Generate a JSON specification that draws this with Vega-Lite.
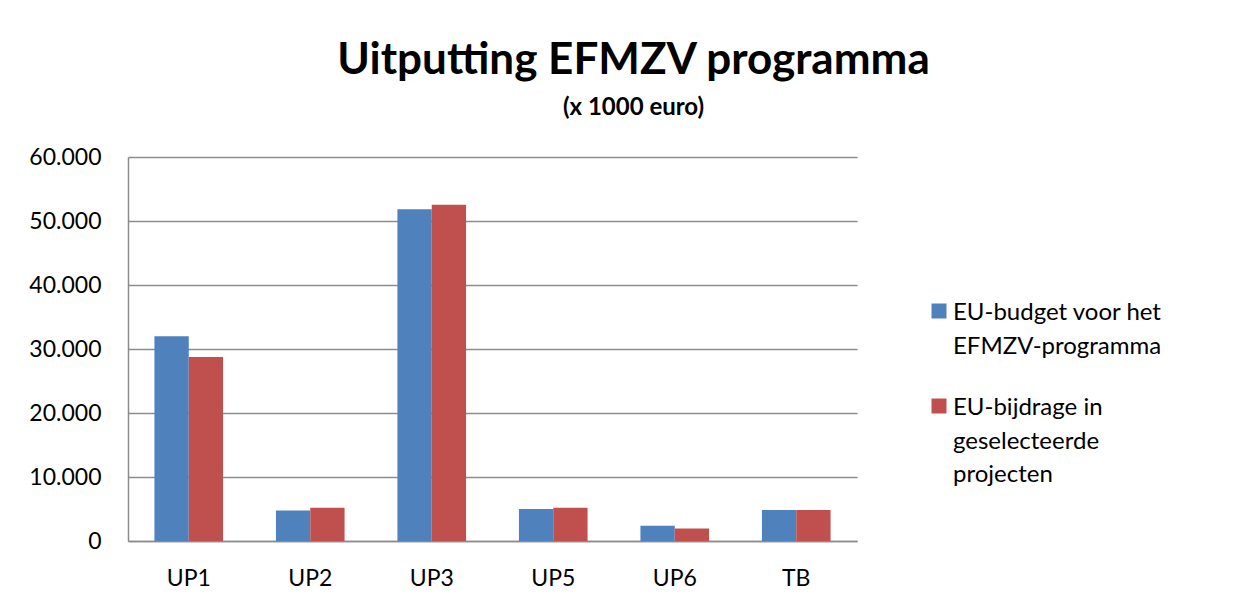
{
  "$schema": "https://vega.github.io/schema/vega-lite/v6.json",
  "autosize": {"type": "none"},
  "width": 729,
  "height": 384,
  "padding": {"left": 128, "top": 157, "right": 402, "bottom": 59},
  "background": "#ffffff",
  "title": {
    "text": "Uitputting EFMZV programma",
    "subtitle": "(x 1000 euro)",
    "anchor": "middle",
    "frame": "group",
    "dx": 141,
    "offset": 26,
    "font": "Lato",
    "fontSize": 44,
    "fontWeight": "bold",
    "color": "#000000",
    "subtitleFont": "Lato",
    "subtitleFontSize": 24,
    "subtitleFontWeight": "bold",
    "subtitleColor": "#000000",
    "subtitlePadding": 13
  },
  "data": {
    "values": [
      {"cat": "UP1", "series": "EU-budget voor het EFMZV-programma", "value": 32000},
      {"cat": "UP1", "series": "EU-bijdrage in geselecteerde projecten", "value": 28750},
      {"cat": "UP2", "series": "EU-budget voor het EFMZV-programma", "value": 4750},
      {"cat": "UP2", "series": "EU-bijdrage in geselecteerde projecten", "value": 5200},
      {"cat": "UP3", "series": "EU-budget voor het EFMZV-programma", "value": 51850},
      {"cat": "UP3", "series": "EU-bijdrage in geselecteerde projecten", "value": 52550},
      {"cat": "UP5", "series": "EU-budget voor het EFMZV-programma", "value": 5000},
      {"cat": "UP5", "series": "EU-bijdrage in geselecteerde projecten", "value": 5200},
      {"cat": "UP6", "series": "EU-budget voor het EFMZV-programma", "value": 2400},
      {"cat": "UP6", "series": "EU-bijdrage in geselecteerde projecten", "value": 1950},
      {"cat": "TB", "series": "EU-budget voor het EFMZV-programma", "value": 4850},
      {"cat": "TB", "series": "EU-bijdrage in geselecteerde projecten", "value": 4850}
    ]
  },
  "mark": {"type": "bar"},
  "encoding": {
    "x": {
      "field": "cat",
      "type": "nominal",
      "sort": ["UP1", "UP2", "UP3", "UP5", "UP6", "TB"],
      "scale": {"paddingInner": 0.435, "paddingOuter": 0.2175},
      "axis": {
        "title": null,
        "labelAngle": 0,
        "ticks": false,
        "labelPadding": 26,
        "labelFont": "Lato",
        "labelFontSize": 23,
        "labelColor": "#000000",
        "labelBaseline": "top",
        "domainColor": "#8c8c8c",
        "domainWidth": 1.5
      }
    },
    "xOffset": {
      "field": "series",
      "type": "nominal",
      "sort": ["EU-budget voor het EFMZV-programma", "EU-bijdrage in geselecteerde projecten"]
    },
    "y": {
      "field": "value",
      "type": "quantitative",
      "scale": {"domain": [0, 60000], "nice": false},
      "axis": {
        "title": null,
        "values": [0, 10000, 20000, 30000, 40000, 50000, 60000],
        "labelExpr": "replace(format(datum.value, ',d'), ',', '.')",
        "ticks": false,
        "labelPadding": 27,
        "labelFont": "Lato",
        "labelFontSize": 23,
        "labelColor": "#000000",
        "grid": true,
        "gridColor": "#8c8c8c",
        "gridWidth": 1.5,
        "domainColor": "#8c8c8c",
        "domainWidth": 1.5
      }
    },
    "color": {
      "field": "series",
      "type": "nominal",
      "scale": {
        "domain": ["EU-budget voor het EFMZV-programma", "EU-bijdrage in geselecteerde projecten"],
        "range": ["#4F81BD", "#C0504D"]
      },
      "legend": {
        "title": null,
        "orient": "none",
        "legendX": 799,
        "legendY": 142,
        "padding": 0,
        "symbolType": "square",
        "symbolSize": 225,
        "symbolStrokeWidth": 0,
        "labelFont": "Lato",
        "labelFontSize": 24,
        "labelColor": "#000000",
        "labelOffset": 2,
        "labelLimit": 400,
        "labelBaseline": "top",
        "rowPadding": 35,
        "labelExpr": "datum.label == 'EU-budget voor het EFMZV-programma' ? ['EU-budget voor het', 'EFMZV-programma'] : ['EU-bijdrage in', 'geselecteerde', 'projecten']",
        "encode": {
          "labels": {"update": {"lineHeight": {"value": 33.5}, "dy": {"value": -10}}}
        }
      }
    }
  },
  "config": {
    "view": {"stroke": null},
    "axis": {"gridCap": "butt"}
  }
}
